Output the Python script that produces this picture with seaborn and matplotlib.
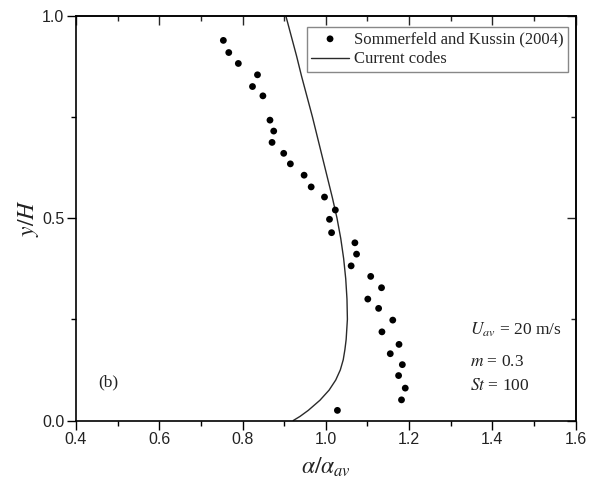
import numpy as np
import pandas as pd
import matplotlib
matplotlib.use("Agg")
import matplotlib.pyplot as plt
import seaborn as sns
from matplotlib.ticker import MultipleLocator

# ---- data ----
exp_x = [0.754, 0.767, 0.790, 0.836, 0.824, 0.849, 0.866, 0.875, 0.871, 0.899,
         0.915, 0.948, 0.965, 0.997, 1.023, 1.009, 1.014, 1.070, 1.074, 1.061,
         1.108, 1.134, 1.101, 1.127, 1.161, 1.135, 1.176, 1.155, 1.184, 1.175,
         1.191, 1.182, 1.028]
exp_y = [0.939, 0.909, 0.882, 0.854, 0.825, 0.802, 0.742, 0.715, 0.687, 0.660,
         0.634, 0.606, 0.577, 0.552, 0.520, 0.497, 0.464, 0.439, 0.411, 0.382,
         0.356, 0.328, 0.300, 0.277, 0.248, 0.219, 0.188, 0.165, 0.138, 0.111,
         0.080, 0.051, 0.025]

code_y = [0.00, 0.01, 0.025, 0.05, 0.075, 0.10, 0.125, 0.15, 0.175, 0.20,
          0.25, 0.30, 0.35, 0.40, 0.45, 0.50, 0.55, 0.60, 0.65, 0.70, 0.75,
          0.80, 0.85, 0.90, 0.95, 1.00]
code_x = [0.922, 0.938, 0.958, 0.986, 1.008, 1.024, 1.035, 1.042, 1.046, 1.049,
          1.052, 1.051, 1.048, 1.043, 1.036, 1.027, 1.016, 1.004, 0.992, 0.980,
          0.968, 0.955, 0.942, 0.930, 0.917, 0.904]

x_ticks = [0.4, 0.6, 0.8, 1.0, 1.2, 1.4, 1.6]
y_ticks = [0.0, 0.5, 1.0]

label_exp = "Sommerfeld and Kussin (2004)"
label_code = "Current codes"

sns.set_theme(style="white")
plt.rcParams["font.family"] = ["Liberation Sans", "DejaVu Sans"]
plt.rcParams["mathtext.fontset"] = "stix"

fig = plt.figure(figsize=(5.94, 4.86), dpi=100)
ax = fig.add_axes([76 / 594, 1 - 420.5 / 486, (575.5 - 76) / 594, (420.5 - 15.7) / 486])

df_exp = pd.DataFrame({"x": exp_x, "y": exp_y})
df_code = pd.DataFrame({"x": code_x, "y": code_y})

sns.scatterplot(data=df_exp, x="x", y="y", ax=ax, color="black", s=24,
                edgecolor="none", label=label_exp, zorder=3)
sns.lineplot(data=df_code, x="x", y="y", ax=ax, sort=False, estimator=None,
             color="#2a2a2a", linewidth=1.0, label=label_code, zorder=2)

ax.set_xlim(0.4, 1.6)
ax.set_ylim(0.0, 1.0)
ax.set_xticks(x_ticks)
ax.set_yticks(y_ticks)
ax.set_xticklabels([f"{v:.1f}" for v in x_ticks])
ax.set_yticklabels([f"{v:.1f}" for v in y_ticks])
ax.xaxis.set_minor_locator(MultipleLocator(0.1))
ax.yaxis.set_minor_locator(MultipleLocator(0.25))

for s in ax.spines.values():
    s.set_visible(True)
    s.set_color("black")
    s.set_linewidth(1.2)

ax.tick_params(which="major", direction="out", length=6.5, width=1.0,
               labelsize=11.5, color="black", labelcolor="#222222", pad=2,
               bottom=True, left=True)
ax.tick_params(which="minor", direction="out", length=3.5, width=1.0,
               color="black", bottom=True, left=True)

# top & right mirror ticks pointing inward
top = ax.secondary_xaxis("top")
top.set_xticks(x_ticks)
top.xaxis.set_minor_locator(MultipleLocator(0.1))
top.tick_params(which="major", direction="in", length=6.5, width=1.0, labeltop=False)
top.tick_params(which="minor", direction="in", length=3.5, width=1.0)
top.spines["top"].set_linewidth(1.2)
right = ax.secondary_yaxis("right")
right.set_yticks(y_ticks)
right.yaxis.set_minor_locator(MultipleLocator(0.25))
right.tick_params(which="major", direction="in", length=6.5, width=1.0, labelright=False)
right.tick_params(which="minor", direction="in", length=3.5, width=1.0)
right.spines["right"].set_linewidth(1.2)

ax.set_xlabel(r"$\alpha/\alpha_{av}$", fontsize=17, labelpad=6, color="#222222")
ax.set_ylabel(r"$y/H$", fontsize=17, labelpad=1, color="#222222")

serif = ["Liberation Serif", "DejaVu Serif"]
ax.text(1.347, 0.224, r"$U_{av}$ = 20 m/s", fontsize=12.5, family=serif,
        va="center", ha="left", color="#222222")
ax.text(1.347, 0.145, r"$m$ = 0.3", fontsize=12.5, family=serif,
        va="center", ha="left", color="#222222")
ax.text(1.347, 0.085, r"$St$ = 100", fontsize=12.5, family=serif,
        va="center", ha="left", color="#222222")
ax.text(0.453, 0.093, "(b)", fontsize=12.5, family=serif,
        va="center", ha="left", color="#222222")

leg = ax.legend(loc="upper right", bbox_to_anchor=(0.985, 0.972),
                borderaxespad=0, frameon=True, fancybox=False,
                edgecolor="#888888", framealpha=1, handlelength=2.3,
                handletextpad=0.3, borderpad=0.25, labelspacing=0.25,
                prop={"family": serif, "size": 12})
leg.get_frame().set_linewidth(1.0)

fig.savefig("out.png", dpi=100)
